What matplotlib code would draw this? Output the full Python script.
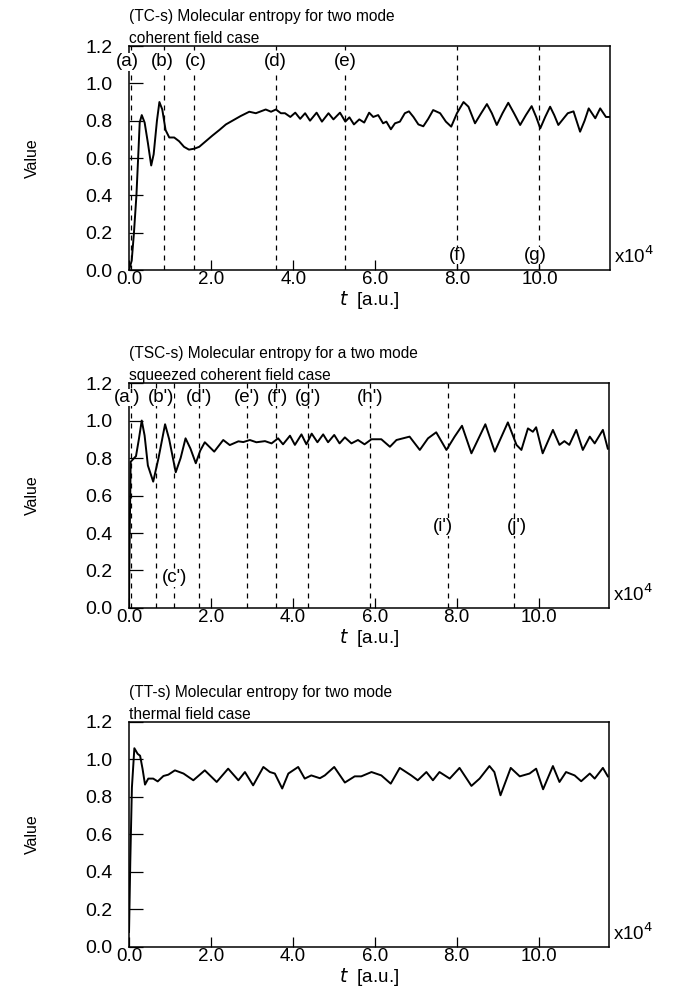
import numpy as np
import matplotlib
matplotlib.use("Agg")
from matplotlib import pyplot as plt

plt.rcParams["font.family"] = ["Liberation Sans", "DejaVu Sans"]

# (t [x1e4 a.u.], entropy)
tc_points = [
    (0.0, 0.0), (0.065, 0.05), (0.12, 0.20), (0.18, 0.40), (0.23, 0.64), (0.26, 0.79),
    (0.31, 0.83), (0.38, 0.79), (0.46, 0.68), (0.54, 0.56), (0.60, 0.62), (0.68, 0.80),
    (0.74, 0.90), (0.81, 0.86), (0.89, 0.75), (0.98, 0.71), (1.10, 0.71), (1.22, 0.69),
    (1.34, 0.66), (1.46, 0.645), (1.59, 0.65), (1.71, 0.66), (1.87, 0.69), (2.03, 0.72),
    (2.20, 0.75), (2.36, 0.78), (2.52, 0.80), (2.72, 0.825), (2.93, 0.848), (3.09, 0.84),
    (3.21, 0.85), (3.33, 0.86), (3.46, 0.848), (3.58, 0.86), (3.70, 0.84), (3.80, 0.84),
    (3.93, 0.82), (4.05, 0.843), (4.17, 0.81), (4.29, 0.84), (4.41, 0.80), (4.57, 0.843),
    (4.70, 0.795), (4.86, 0.84), (4.98, 0.807), (5.14, 0.843), (5.27, 0.795), (5.37, 0.818),
    (5.48, 0.78), (5.61, 0.807), (5.73, 0.79), (5.85, 0.843), (5.95, 0.82), (6.07, 0.83),
    (6.19, 0.786), (6.27, 0.795), (6.38, 0.754), (6.48, 0.786), (6.60, 0.795), (6.72, 0.84),
    (6.82, 0.85), (6.93, 0.82), (7.05, 0.78), (7.17, 0.77), (7.29, 0.81), (7.41, 0.857),
    (7.58, 0.84), (7.72, 0.795), (7.85, 0.768), (7.99, 0.84), (8.15, 0.90), (8.27, 0.875),
    (8.43, 0.786), (8.58, 0.84), (8.72, 0.889), (8.84, 0.84), (8.96, 0.777), (9.10, 0.84),
    (9.24, 0.896), (9.38, 0.84), (9.53, 0.777), (9.67, 0.83), (9.81, 0.878), (9.92, 0.82),
    (10.02, 0.759), (10.14, 0.82), (10.26, 0.875), (10.36, 0.83), (10.46, 0.777), (10.58, 0.81),
    (10.69, 0.84), (10.83, 0.85), (10.99, 0.741), (11.10, 0.80), (11.20, 0.866), (11.36, 0.813),
    (11.48, 0.866), (11.62, 0.82), (11.72, 0.82),
]

tsc_points = [
    (0.0, 0.05), (0.02, 0.45), (0.04, 0.78), (0.17, 0.81), (0.24, 0.90), (0.31, 1.0),
    (0.38, 0.92), (0.46, 0.76), (0.59, 0.674), (0.72, 0.80), (0.88, 0.98), (0.98, 0.90),
    (1.14, 0.724), (1.26, 0.80), (1.38, 0.905), (1.50, 0.85), (1.63, 0.772), (1.74, 0.84),
    (1.85, 0.884), (2.08, 0.834), (2.30, 0.896), (2.46, 0.869), (2.67, 0.889), (2.79, 0.885),
    (2.95, 0.896), (3.11, 0.884), (3.32, 0.89), (3.48, 0.878), (3.64, 0.905), (3.76, 0.873),
    (3.93, 0.919), (4.05, 0.87), (4.21, 0.926), (4.33, 0.873), (4.46, 0.93), (4.60, 0.884),
    (4.74, 0.926), (4.86, 0.884), (5.01, 0.923), (5.14, 0.878), (5.27, 0.91), (5.43, 0.878),
    (5.59, 0.896), (5.75, 0.873), (5.92, 0.90), (6.16, 0.90), (6.37, 0.86), (6.53, 0.896),
    (6.69, 0.905), (6.85, 0.914), (7.10, 0.843), (7.30, 0.905), (7.50, 0.937), (7.75, 0.843),
    (7.95, 0.914), (8.13, 0.972), (8.36, 0.825), (8.70, 0.98), (8.93, 0.834), (9.25, 0.99),
    (9.46, 0.87), (9.58, 0.843), (9.74, 0.958), (9.86, 0.94), (9.94, 0.964), (10.10, 0.825),
    (10.35, 0.95), (10.51, 0.87), (10.63, 0.89), (10.75, 0.87), (10.92, 0.95), (11.08, 0.843),
    (11.25, 0.914), (11.37, 0.878), (11.57, 0.95), (11.69, 0.85),
]

tt_points = [
    (0.0, 0.08), (0.03, 0.45), (0.07, 0.85), (0.13, 1.06), (0.21, 1.03), (0.27, 1.02),
    (0.33, 0.95), (0.39, 0.866), (0.47, 0.898), (0.59, 0.898), (0.70, 0.883), (0.84, 0.912),
    (0.96, 0.919), (1.12, 0.942), (1.33, 0.925), (1.57, 0.889), (1.85, 0.942), (2.14, 0.88),
    (2.42, 0.951), (2.67, 0.889), (2.83, 0.933), (3.03, 0.862), (3.28, 0.96), (3.44, 0.933),
    (3.56, 0.925), (3.74, 0.845), (3.89, 0.925), (4.13, 0.96), (4.29, 0.898), (4.45, 0.915),
    (4.66, 0.90), (4.78, 0.915), (5.01, 0.96), (5.27, 0.877), (5.51, 0.91), (5.67, 0.91),
    (5.92, 0.933), (6.16, 0.915), (6.39, 0.871), (6.61, 0.955), (6.89, 0.915), (7.05, 0.889),
    (7.26, 0.933), (7.42, 0.889), (7.58, 0.933), (7.83, 0.898), (8.07, 0.955), (8.36, 0.859),
    (8.56, 0.898), (8.80, 0.965), (8.92, 0.933), (9.07, 0.809), (9.32, 0.955), (9.54, 0.91),
    (9.78, 0.925), (9.94, 0.951), (10.11, 0.841), (10.35, 0.965), (10.51, 0.88), (10.67, 0.933),
    (10.88, 0.915), (11.04, 0.884), (11.25, 0.925), (11.37, 0.898), (11.57, 0.955), (11.69, 0.91),
]

# dashed markers: line position, label, label x, label y
tc_marks = [
    (0.05, "(a)", -0.05, 1.116), (0.85, "(b)", 0.80, 1.116), (1.59, "(c)", 1.63, 1.116),
    (3.59, "(d)", 3.56, 1.116), (5.27, "(e)", 5.27, 1.116),
    (8.0, "(f)", 8.02, 0.078), (10.0, "(g)", 9.9, 0.078),
]
tsc_marks = [
    (0.05, "(a')", -0.05, 1.123), (0.66, "(b')", 0.77, 1.123), (1.10, "(c')", 1.12, 0.16),
    (1.71, "(d')", 1.71, 1.123), (2.88, "(e')", 2.88, 1.123), (3.58, "(f')", 3.63, 1.123),
    (4.37, "(g')", 4.37, 1.123), (5.88, "(h')", 5.88, 1.123),
    (7.78, "(i')", 7.66, 0.434), (9.41, "(j')", 9.46, 0.434),
]
tt_marks = []

titles = [
    "(TC-s) Molecular entropy for two mode\ncoherent field case",
    "(TSC-s) Molecular entropy for a two mode\nsqueezed coherent field case",
    "(TT-s) Molecular entropy for two mode\nthermal field case",
]
x_ticks = [0, 2, 4, 6, 8, 10]
x_labels = ["0.0", "2.0", "4.0", "6.0", "8.0", "10.0"]
y_ticks = [0.0, 0.2, 0.4, 0.6, 0.8, 1.0, 1.2]

fig = plt.figure(figsize=(6.77, 9.92), dpi=100)
boxes = [
    [0.1906, 0.7278, 0.7105, 0.2258],
    [0.1906, 0.3871, 0.7090, 0.2268],
    [0.1906, 0.0454, 0.7090, 0.2268],
]

for box, title, pts, marks in zip(boxes, titles, [tc_points, tsc_points, tt_points],
                                  [tc_marks, tsc_marks, tt_marks]):
    ax = fig.add_axes(box)
    pts = np.array(pts)
    ax.plot(pts[:, 0], pts[:, 1], color="black", lw=1.4, solid_joinstyle="round", zorder=3)

    for x, lab, lx, ly in marks:
        ax.axvline(x, color="black", lw=0.9, linestyle=(0, (4, 4)), zorder=1)
        ax.text(lx, ly, lab, ha="center", va="center", fontsize=13.5, zorder=4,
                bbox=dict(facecolor="white", edgecolor="none", pad=0.3))

    ax.set_xlim(0, 11.72)
    ax.set_ylim(0, 1.2)
    ax.set_xticks(x_ticks)
    ax.set_xticklabels(x_labels)
    ax.set_yticks(y_ticks)
    ax.set_yticklabels([f"{v:.1f}" for v in y_ticks])
    ax.tick_params(axis="both", direction="in", labelsize=14, width=0.9)
    ax.tick_params(axis="y", length=10, pad=12)
    ax.tick_params(axis="x", length=7, pad=1, labelsize=13.5)
    for sp in ax.spines.values():
        sp.set_linewidth(1.1)

    ax.set_xlabel(r"$\it{t}$  [a.u.]", fontsize=13.5, labelpad=0.5)
    ax.set_ylabel("Value", fontsize=11.5)
    ax.yaxis.set_label_coords(-0.185, 0.5)
    ax.text(0.0, 1.0, title, transform=ax.transAxes, ha="left", va="bottom",
            fontsize=11.2, linespacing=1.6)
    ax.text(1.008, 0.03, r"x10$^4$", transform=ax.transAxes, ha="left", va="baseline",
            fontsize=13.5)

fig.savefig("out.png", dpi=100)
